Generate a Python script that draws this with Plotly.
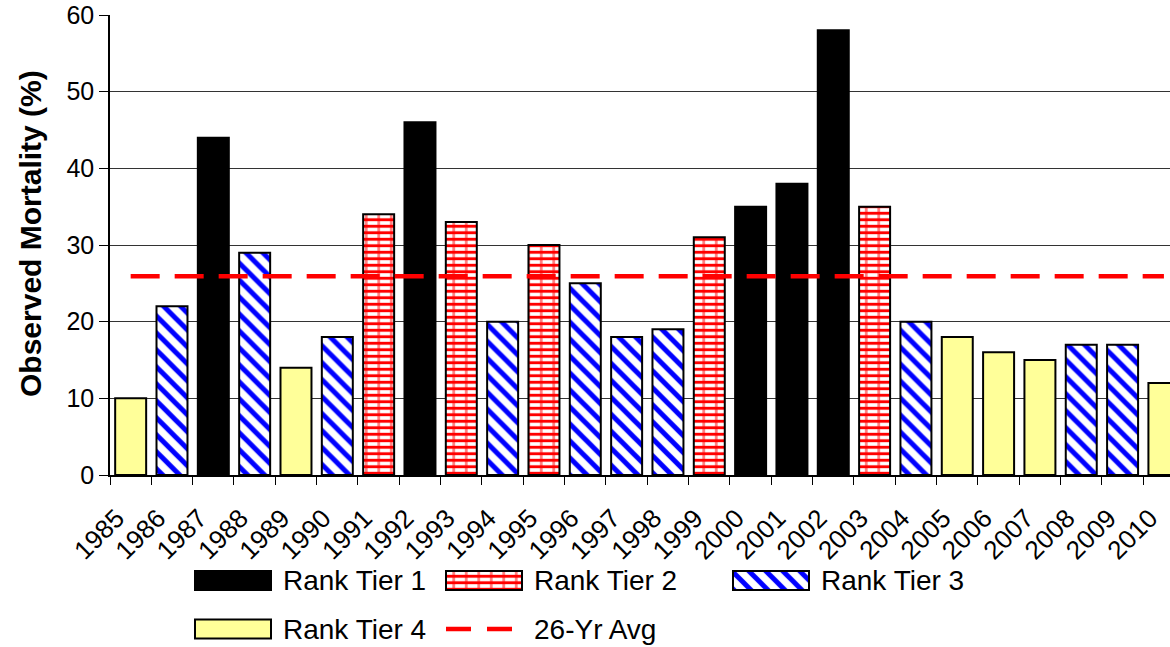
import plotly.graph_objects as go

# Observed mortality by year, with each year's rank tier
years = ["1985", "1986", "1987", "1988", "1989", "1990", "1991", "1992", "1993",
         "1994", "1995", "1996", "1997", "1998", "1999", "2000", "2001", "2002",
         "2003", "2004", "2005", "2006", "2007", "2008", "2009", "2010"]
mortality = [10, 22, 44, 29, 14, 18, 34, 46, 33, 20, 30, 25, 18, 19, 31, 35, 38,
             58, 35, 20, 18, 16, 15, 17, 17, 12]
tier = [4, 3, 1, 3, 4, 3, 2, 1, 2, 3, 2, 3, 3, 3, 2, 1, 1, 1, 2, 3, 4, 4, 4, 3, 3, 4]
tier_names = {1: "Rank Tier 1", 2: "Rank Tier 2", 3: "Rank Tier 3", 4: "Rank Tier 4"}
avg_name = "26-Yr Avg"
y_title = "Observed Mortality (%)"

avg = sum(mortality) / len(mortality)

FONT = "Liberation Sans, Arial, sans-serif"
RED = "#FF0000"
BLUE = "#0000FF"

# Fill layers for each tier; brick = horizontal courses plus vertical joints
TIER_LAYERS = {
    1: [dict(color="black")],
    2: [dict(color="white",
             pattern=dict(shape="-", fgcolor=RED, bgcolor="white", size=6.5,
                          solidity=0.45, fillmode="replace")),
        dict(color="rgba(0,0,0,0)",
             pattern=dict(shape="|", fgcolor=RED, size=12.5, solidity=0.22,
                          fillmode="overlay"))],
    3: [dict(color="white",
             pattern=dict(shape="\\", fgcolor=BLUE, bgcolor="white", size=12,
                          solidity=0.42, fillmode="replace"))],
    4: [dict(color="#FFFF99")],
}

fig = go.Figure()


def add_tier_bars(t, x, y, xaxis, yaxis, **bar_kw):
    layers = TIER_LAYERS[t]
    for i, layer in enumerate(layers):
        last = i == len(layers) - 1
        marker = dict(color=layer["color"],
                      line=dict(color="black", width=2 if last else 0))
        if "pattern" in layer:
            marker["pattern"] = layer["pattern"]
        fig.add_trace(go.Bar(x=x, y=y, marker=marker, xaxis=xaxis, yaxis=yaxis,
                             name=tier_names[t], showlegend=False, **bar_kw))


# Main bars, one group per tier
for t in (1, 2, 3, 4):
    xs = [yr for yr, tt in zip(years, tier) if tt == t]
    ys = [v for v, tt in zip(mortality, tier) if tt == t]
    add_tier_bars(t, xs, ys, "x", "y", width=0.75)

# Long-term average line
fig.add_trace(go.Scatter(x=years, y=[avg] * len(years), mode="lines",
                         line=dict(color=RED, width=4.5, dash="29px,15px"),
                         name=avg_name, showlegend=False, xaxis="x", yaxis="y"))

W, H = 1170, 647
M_L, M_R, M_T, M_B = 110, 0, 15, 5
plot_w = W - M_L - M_R
plot_h = H - M_T - M_B
axis_bottom_px = 475
y_dom0 = (H - M_B - axis_bottom_px) / plot_h
cat_px = 41.33
x_end = -0.5 + plot_w / cat_px

# Legend drawn on a pixel-scaled inset below the chart
SW_W, SW_H = 76, 19
col_left = [195, 446, 733]
row_y = [580.5, 629]
legend_slots = {1: (0, 0), 2: (0, 1), 3: (0, 2), 4: (1, 0)}
annotations = []
for t, (r, c) in legend_slots.items():
    add_tier_bars(t, [SW_W], [row_y[r]], "x2", "y2", orientation="h",
                  base=[col_left[c]], width=SW_H)
    annotations.append(dict(x=col_left[c] + SW_W + 10, y=row_y[r], xref="x2", yref="y2",
                            text=tier_names[t], showarrow=False, xanchor="left",
                            yanchor="middle", font=dict(size=28, family=FONT, color="black")))

fig.add_trace(go.Scatter(x=[col_left[1], col_left[1] + 68], y=[row_y[1], row_y[1]],
                         mode="lines", line=dict(color=RED, width=4.5, dash="25px,16px"),
                         showlegend=False, xaxis="x2", yaxis="y2"))
annotations.append(dict(x=col_left[1] + SW_W + 10, y=row_y[1], xref="x2", yref="y2",
                        text=avg_name, showarrow=False, xanchor="left", yanchor="middle",
                        font=dict(size=28, family=FONT, color="black")))

# Vertical axis title
annotations.append(dict(x=(30 - M_L) / plot_w, y=(H - M_B - 234) / plot_h,
                        xref="paper", yref="paper", text=y_title, textangle=-90,
                        showarrow=False, xanchor="center", yanchor="middle",
                        font=dict(size=30, family=FONT, color="black", weight="bold")))

fig.update_layout(
    width=W, height=H,
    margin=dict(l=M_L, r=M_R, t=M_T, b=M_B, autoexpand=False),
    paper_bgcolor="white", plot_bgcolor="white",
    barmode="overlay",
    font=dict(family=FONT, color="black"),
    showlegend=False,
    annotations=annotations,
    xaxis=dict(
        domain=[0, 1], anchor="y", type="category",
        categoryorder="array", categoryarray=years, range=[-0.5, x_end],
        tickson="boundaries", ticks="outside", ticklen=8, tickcolor="black",
        tickwidth=1, tickangle=-45, tickfont=dict(size=26, family=FONT),
        showline=True, linecolor="black", linewidth=1.5, showgrid=False,
        ticklabelstandoff=16, ticklabelshift=-14, automargin=False,
    ),
    yaxis=dict(
        domain=[y_dom0, 1], anchor="x", range=[0, 60], dtick=10,
        showgrid=True, gridcolor="#333333", gridwidth=1, zeroline=False,
        showline=True, linecolor="black", linewidth=1.5,
        ticks="outside", ticklen=9, tickcolor="black", tickwidth=1,
        tickfont=dict(size=25, family=FONT), automargin=False,
    ),
    xaxis2=dict(domain=[0, 1], anchor="y2", range=[M_L, W - M_R], visible=False,
                fixedrange=True, automargin=False),
    yaxis2=dict(domain=[0, (H - M_B - 560) / plot_h], anchor="x2",
                range=[H - M_B, 560], visible=False, fixedrange=True, automargin=False),
)

fig.write_html("out.html")
